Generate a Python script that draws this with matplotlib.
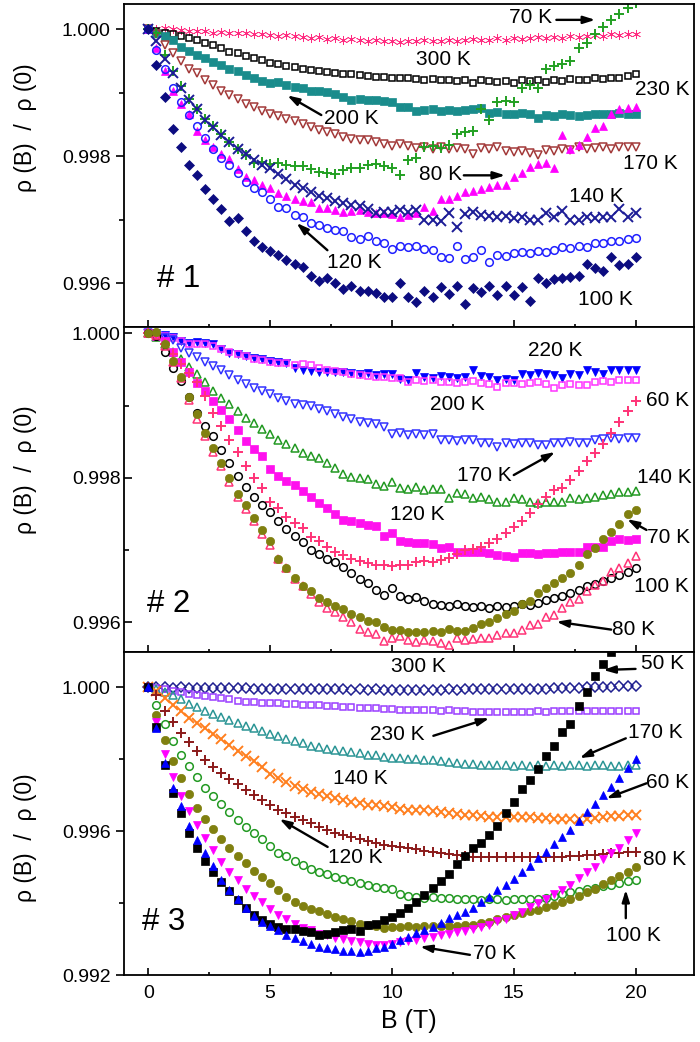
import numpy as np
import matplotlib
matplotlib.use('Agg')
import matplotlib.pyplot as plt
from matplotlib.ticker import MultipleLocator, FormatStrFormatter

plt.rcParams['font.family'] = ['Liberation Sans', 'DejaVu Sans']

# magnetic field (T), same sweep for every curve
B = [0, 0.33, 0.67, 1, 1.33, 1.67, 2, 2.33, 2.67, 3,
     3.33, 3.67, 4, 4.33, 4.67, 5, 5.33, 5.67, 6, 6.33,
     6.67, 7, 7.33, 7.67, 8, 8.33, 8.67, 9, 9.33, 9.67,
     10, 10.33, 10.67, 11, 11.33, 11.67, 12, 12.33, 12.67, 13,
     13.33, 13.67, 14, 14.33, 14.67, 15, 15.33, 15.67, 16, 16.33,
     16.67, 17, 17.33, 17.67, 18, 18.33, 18.67, 19, 19.33, 19.67,
     20]

# rho(B)/rho(0) - 1, in units of 1e-5
# ---- sample # 1 ----
s1_300 = [0, 1, 2, 0, -1, -2, -3, -3, -5, -4,
          -5, -6, -6, -8, -7, -9, -10, -9, -11, -12,
          -13, -12, -15, -14, -16, -15, -17, -18, -16, -19,
          -18, -20, -18, -19, -17, -19, -18, -16, -18, -17,
          -15, -17, -16, -14, -16, -13, -15, -14, -12, -13,
          -12, -13, -10, -12, -11, -9, -10, -8, -9, -7,
          -7]
s1_230 = [0, -3, -5, -7, -10, -14, -17, -21, -25, -30,
          -35, -38, -42, -45, -49, -53, -55, -58, -60, -62,
          -64, -65, -67, -68, -70, -71, -72, -73, -75, -75,
          -76, -77, -77, -78, -79, -78, -80, -79, -81, -80,
          -84, -79, -82, -83, -81, -84, -80, -82, -80, -83,
          -79, -81, -78, -80, -79, -77, -78, -76, -77, -74,
          -71]
s1_200 = [0, -5, -11, -16, -27, -34, -40, -45, -51, -56,
          -62, -66, -72, -76, -82, -85, -83, -87, -91, -93,
          -97, -97, -99, -102, -106, -111, -110, -111, -112, -113,
          -114, -122, -123, -128, -127, -126, -128, -127, -129, -127,
          -126, -124, -132, -130, -134, -133, -132, -134, -140, -135,
          -136, -134, -135, -137, -135, -133, -134, -133, -132, -133,
          -134]
s1_170 = [0, -8, -24, -37, -50, -63, -69, -79, -87, -97,
          -104, -110, -117, -122, -128, -133, -137, -141, -145, -149,
          -154, -159, -162, -165, -169, -172, -174, -175, -177, -181,
          -183, -181, -184, -187, -185, -188, -186, -188, -187, -189,
          -196, -187, -189, -186, -192, -194, -191, -195, -198, -190,
          -192, -189, -190, -186, -188, -187, -186, -188, -185, -186,
          -185]
s1_70 = [0, -6, -40, -65, -90, -110, -125, -142, -153, -165,
         -177, -188, -198, -210, -209, -212, -210, -214, -216, -215,
         -220, -225, -226, -228, -222, -219, -219, -214, -212, -215,
         -219, -230, -206, -202, -186, -184, -187, -182, -165, -162,
         -160, -125, -143, -114, -113, -115, -92, -88, -92, -62,
         -58, -55, -50, -30, -22, -8, 3, 14, 24, 33,
         42]
s1_80 = [0, -30, -66, -97, -117, -134, -160, -175, -186, -196,
         -205, -220, -232, -238, -245, -250, -258, -262, -268, -270,
         -272, -282, -281, -284, -288, -286, -285, -287, -290, -289,
         -291, -296, -292, -290, -280, -286, -267, -268, -262, -257,
         -255, -251, -248, -245, -246, -233, -226, -217, -212, -210,
         -219, -167, -188, -182, -169, -155, -153, -133, -126, -124,
         -122]
s1_140 = [0, -19, -47, -69, -92, -111, -125, -143, -154, -166,
          -177, -189, -197, -206, -213, -219, -228, -236, -245, -250,
          -256, -262, -266, -271, -273, -277, -279, -283, -289, -287,
          -288, -285, -288, -284, -301, -300, -302, -289, -312, -291,
          -288, -292, -294, -296, -294, -297, -295, -300, -301, -289,
          -296, -286, -300, -301, -296, -297, -295, -296, -283, -296,
          -290]
s1_120 = [0, -33, -62, -93, -114, -135, -152, -171, -188, -203,
          -214, -227, -240, -250, -257, -268, -280, -282, -292, -295,
          -305, -309, -313, -316, -317, -327, -331, -326, -334, -337,
          -346, -341, -343, -342, -346, -348, -359, -360, -341, -362,
          -358, -348, -367, -356, -357, -352, -351, -353, -350, -351,
          -347, -343, -344, -342, -343, -337, -336, -334, -333, -331,
          -328]
s1_100 = [0, -56, -106, -157, -185, -213, -230, -252, -268, -283,
          -302, -298, -317, -333, -343, -349, -356, -363, -370, -374,
          -388, -396, -391, -400, -409, -405, -413, -412, -416, -422,
          -422, -400, -422, -430, -412, -422, -406, -417, -405, -433,
          -407, -414, -404, -418, -404, -419, -406, -428, -391, -400,
          -393, -392, -390, -388, -369, -376, -380, -359, -371, -369,
          -359]

# ---- sample # 2 ----
s2_220 = [0, 0, -2, -5, -11, -13, -12, -13, -15, -22,
          -27, -29, -31, -34, -36, -38, -40, -41, -48, -50,
          -52, -53, -53, -54, -54, -55, -56, -55, -57, -56,
          -56, -63, -64, -55, -60, -61, -59, -60, -61, -60,
          -51, -59, -60, -64, -63, -64, -56, -57, -55, -56,
          -57, -62, -56, -57, -51, -54, -56, -50, -51, -50,
          -51]
s2_200 = [0, -1, -3, -6, -10, -14, -14, -14, -18, -22,
          -26, -28, -31, -35, -37, -39, -41, -41, -44, -42,
          -44, -48, -50, -52, -54, -56, -58, -59, -60, -60,
          -61, -62, -67, -65, -66, -65, -67, -67, -68, -67,
          -66, -69, -70, -74, -68, -69, -70, -68, -67, -70,
          -76, -71, -70, -71, -71, -67, -66, -67, -65, -65,
          -65]
s2_170 = [0, -3, -6, -9, -20, -27, -33, -39, -45, -50,
          -57, -64, -70, -75, -80, -84, -89, -93, -97, -99,
          -101, -104, -108, -112, -115, -118, -122, -124, -126, -129,
          -139, -138, -140, -139, -141, -139, -148, -147, -149, -148,
          -147, -152, -152, -157, -152, -153, -151, -152, -154, -155,
          -151, -152, -150, -151, -151, -148, -146, -145, -146, -145,
          -145]
s2_140 = [0, -5, -14, -25, -36, -47, -56, -67, -79, -89,
          -98, -107, -117, -124, -132, -139, -148, -153, -158, -166,
          -170, -173, -179, -186, -194, -199, -200, -201, -208, -211,
          -205, -214, -216, -213, -217, -215, -216, -228, -221, -222,
          -228, -227, -229, -233, -233, -228, -229, -234, -235, -233,
          -234, -233, -228, -229, -228, -226, -223, -222, -220, -219,
          -218]
s2_120 = [0, -3, -10, -26, -40, -53, -68, -79, -93, -106,
          -119, -134, -149, -160, -169, -187, -198, -204, -210, -218,
          -226, -235, -242, -250, -258, -259, -263, -265, -267, -281,
          -276, -287, -289, -290, -290, -291, -297, -296, -302, -302,
          -303, -302, -304, -307, -308, -309, -304, -304, -305, -304,
          -304, -302, -302, -303, -295, -296, -295, -288, -285, -286,
          -285]
s2_60 = [0, -4, -15, -28, -42, -55, -67, -86, -110, -128,
         -148, -164, -183, -200, -214, -233, -242, -254, -262, -270,
         -282, -287, -295, -302, -307, -312, -315, -318, -320, -321,
         -322, -321, -320, -316, -315, -316, -313, -311, -305, -300,
         -298, -295, -290, -284, -276, -268, -259, -248, -236, -226,
         -217, -214, -203, -191, -177, -166, -153, -138, -122, -108,
         -93]
s2_70 = [0, 2, -14, -38, -60, -88, -111, -138, -159, -180,
         -200, -222, -238, -256, -272, -287, -312, -325, -339, -349,
         -357, -366, -372, -378, -382, -389, -393, -398, -400, -407,
         -410, -411, -413, -413, -414, -412, -413, -409, -412, -412,
         -408, -402, -399, -394, -388, -384, -375, -370, -360, -353,
         -346, -339, -332, -321, -306, -297, -285, -275, -264, -250,
         -245]
s2_100 = [0, -4, -25, -48, -66, -88, -110, -128, -142, -162,
          -180, -197, -212, -226, -238, -247, -260, -271, -281, -289,
          -300, -306, -312, -316, -324, -332, -340, -345, -355, -362,
          -352, -364, -367, -365, -371, -374, -376, -378, -375, -377,
          -379, -378, -380, -377, -379, -377, -375, -376, -373, -369,
          -366, -363, -359, -355, -350, -347, -343, -339, -334, -330,
          -325]
s2_80 = [0, -2, -17, -40, -62, -92, -118, -142, -164, -184,
         -205, -226, -243, -260, -278, -293, -312, -325, -340, -350,
         -361, -372, -380, -386, -393, -400, -409, -414, -416, -426,
         -421, -419, -425, -427, -424, -426, -429, -431, -422, -424,
         -423, -421, -422, -418, -415, -415, -411, -404, -402, -393,
         -390, -380, -372, -368, -357, -348, -343, -330, -325, -318,
         -308]

# ---- sample # 3 ----
s3_300 = [0, 0, 0, -1, 0, -1, -2, -1, -2, -3,
          -2, -3, -3, -4, -4, -5, -4, -5, -5, -6,
          -5, -6, -6, -5, -6, -7, -6, -7, -6, -7,
          -7, -8, -7, -7, -8, -7, -7, -6, -7, -6,
          -6, -6, -5, -5, -6, -5, -4, -5, -4, -5,
          -3, -2, -1, -1, 0, 1, 1, 2, 3, 3,
          4]
s3_230 = [0, -3, -6, -10, -14, -18, -22, -25, -28, -31,
          -34, -37, -40, -42, -43, -44, -45, -46, -47, -48,
          -49, -50, -52, -53, -55, -56, -58, -59, -59, -60,
          -61, -62, -64, -63, -64, -64, -65, -64, -65, -66,
          -68, -70, -70, -69, -68, -69, -68, -68, -67, -69,
          -67, -66, -66, -67, -66, -66, -67, -66, -66, -66,
          -66]
s3_170 = [0, -5, -13, -22, -34, -47, -56, -67, -75, -82,
          -91, -99, -107, -114, -121, -129, -136, -143, -150, -156,
          -162, -166, -171, -175, -178, -180, -184, -187, -189, -193,
          -197, -197, -199, -200, -202, -203, -205, -207, -210, -212,
          -213, -215, -216, -216, -217, -218, -217, -218, -217, -218,
          -217, -218, -217, -217, -218, -217, -217, -218, -218, -216,
          -216]
s3_140 = [0, -11, -31, -48, -66, -85, -99, -114, -129, -143,
          -160, -177, -192, -205, -222, -240, -252, -264, -274, -283,
          -290, -296, -302, -308, -313, -319, -321, -326, -328, -330,
          -334, -338, -340, -341, -342, -345, -347, -349, -352, -354,
          -356, -358, -360, -360, -361, -360, -361, -362, -363, -364,
          -365, -366, -366, -367, -366, -363, -361, -359, -357, -356,
          -355]
s3_120 = [0, -21, -65, -98, -127, -153, -177, -201, -222, -239,
          -255, -270, -285, -300, -313, -326, -340, -350, -360, -369,
          -378, -388, -396, -404, -410, -417, -421, -427, -433, -438,
          -442, -445, -448, -451, -454, -457, -460, -463, -466, -470,
          -471, -472, -473, -472, -473, -472, -473, -472, -472, -473,
          -472, -471, -470, -468, -466, -465, -464, -462, -461, -459,
          -457]
s3_100 = [0, -50, -103, -150, -187, -220, -250, -280, -303, -325,
          -347, -368, -388, -406, -422, -440, -460, -470, -483, -495,
          -504, -513, -520, -527, -533, -539, -545, -551, -556, -557,
          -561, -574, -579, -582, -585, -584, -586, -585, -588, -589,
          -590, -591, -590, -590, -591, -590, -589, -590, -588, -586,
          -580, -575, -570, -566, -562, -557, -553, -549, -545, -540,
          -536]
s3_80 = [0, -76, -148, -206, -252, -296, -335, -366, -394, -423,
         -448, -468, -490, -510, -528, -545, -565, -582, -596, -607,
         -616, -623, -631, -639, -644, -650, -657, -660, -664, -669,
         -667, -666, -665, -666, -665, -664, -665, -663, -664, -662,
         -660, -655, -652, -645, -640, -633, -627, -622, -620, -612,
         -604, -596, -588, -580, -570, -560, -546, -536, -525, -513,
         -499]
s3_70 = [0, -97, -185, -250, -301, -345, -384, -418, -453, -487,
         -514, -536, -560, -580, -598, -616, -632, -645, -658, -669,
         -676, -686, -690, -698, -701, -705, -709, -713, -716, -717,
         -713, -709, -706, -703, -698, -693, -689, -685, -680, -677,
         -672, -666, -660, -651, -643, -634, -624, -612, -600, -588,
         -575, -563, -550, -529, -515, -499, -477, -462, -447, -425,
         -406]
s3_60 = [0, -113, -210, -280, -330, -385, -425, -462, -496, -535,
         -565, -590, -614, -637, -652, -664, -675, -688, -697, -705,
         -715, -722, -725, -727, -732, -732, -735, -732, -725, -723,
         -713, -702, -694, -684, -675, -666, -655, -642, -633, -626,
         -614, -598, -582, -565, -550, -534, -515, -497, -475, -459,
         -437, -415, -398, -373, -348, -325, -300, -277, -253, -225,
         -200]
s3_50 = [0, -110, -215, -295, -350, -405, -447, -483, -514, -541,
         -566, -592, -613, -632, -648, -657, -666, -672, -673, -679,
         -681, -690, -686, -681, -676, -673, -678, -661, -657, -647,
         -640, -628, -614, -597, -578, -558, -538, -520, -492, -470,
         -448, -432, -410, -385, -350, -318, -283, -258, -228, -190,
         -162, -125, -102, -52, -12, 30, 66, 98, 135, 170,
         205]


def ratio(d):
    return 1 + np.asarray(d, dtype=float) * 1e-5


def draw(ax, d, marker, color, filled=True, ms=5):
    if marker in ('+', 'x'):
        ax.plot(B, ratio(d), ls='none', marker=marker, color=color, ms=ms, mew=1.4)
    elif filled:
        ax.plot(B, ratio(d), ls='none', marker=marker, color=color, ms=ms, mew=0.5)
    else:
        ax.plot(B, ratio(d), ls='none', marker=marker, mfc='none', mec=color, ms=ms, mew=1.1)


fig = plt.figure(figsize=(7, 10.42), dpi=100)
L, W = 124 / 700, 570 / 700
ax1 = fig.add_axes([L, 715 / 1042, W, 323 / 1042])
ax2 = fig.add_axes([L, 390 / 1042, W, 325 / 1042])
ax3 = fig.add_axes([L, 67 / 1042, W, 323 / 1042])

# sample 1
draw(ax1, s1_300, (6, 2, 0), '#ff2a7f', ms=6.5)
draw(ax1, s1_230, 's', 'black', filled=False, ms=5)
draw(ax1, s1_200, 's', '#1a8c8c', ms=5.5)
draw(ax1, s1_170, 'v', '#a33a3a', filled=False, ms=5.5)
draw(ax1, s1_70, '+', '#22a022', ms=6.5)
draw(ax1, s1_80, '^', '#ff00ff', ms=6)
draw(ax1, s1_140, 'x', '#1c1c96', ms=6.5)
draw(ax1, s1_120, 'o', '#2020ff', filled=False, ms=5.5)
draw(ax1, s1_100, 'D', '#0c0c80', ms=5)

# sample 2
draw(ax2, s2_220, 'v', '#0000ff', ms=6)
draw(ax2, s2_200, 's', '#ff33ff', filled=False, ms=5)
draw(ax2, s2_170, 'v', '#3333ff', filled=False, ms=5.5)
draw(ax2, s2_140, '^', '#229922', filled=False, ms=5.5)
draw(ax2, s2_120, 's', '#ff11ee', ms=5.5)
draw(ax2, s2_60, '+', '#ff3377', ms=6.5)
draw(ax2, s2_100, 'o', 'black', filled=False, ms=5.5)
draw(ax2, s2_80, '^', '#ff3377', filled=False, ms=5.5)
draw(ax2, s2_70, 'o', '#808010', ms=6)

# sample 3
draw(ax3, s3_300, 'D', '#202090', filled=False, ms=5)
draw(ax3, s3_230, 's', '#9a3dff', filled=False, ms=5)
draw(ax3, s3_170, '^', '#2b9595', filled=False, ms=5.5)
draw(ax3, s3_140, 'x', '#ff7f1e', ms=6.5)
draw(ax3, s3_120, '+', '#8b1a1a', ms=6.5)
draw(ax3, s3_100, 'o', '#229922', filled=False, ms=5.5)
draw(ax3, s3_80, 'o', '#808010', ms=6)
draw(ax3, s3_70, 'v', '#ff00ff', ms=6)
draw(ax3, s3_50, 's', 'black', ms=5.5)
draw(ax3, s3_60, '^', '#0000ff', ms=6)

# axes styling
ax1.set_ylim(0.99531, 1.0004)
ax2.set_ylim(0.99559, 1.00009)
ax3.set_ylim(0.992, 1.00098)
for ax, ydir, major, lx, ly in ((ax1, 'out', 0.002, -0.153, 0.616),
                                (ax2, 'in', 0.002, -0.153, 0.56),
                                (ax3, 'out', 0.004, -0.153, 0.424)):
    ax.set_xlim(-1, 22.4)
    ax.xaxis.set_major_locator(MultipleLocator(5))
    ax.xaxis.set_minor_locator(MultipleLocator(2.5))
    ax.yaxis.set_major_locator(MultipleLocator(major))
    ax.yaxis.set_minor_locator(MultipleLocator(major / 2))
    ax.yaxis.set_major_formatter(FormatStrFormatter('%.3f'))
    ax.tick_params(axis='x', which='both', direction='in', top=False, width=1.2,
                   labelsize=14, pad=7)
    ax.tick_params(axis='x', which='major', length=5)
    ax.tick_params(axis='x', which='minor', length=2.5)
    ax.tick_params(axis='y', which='both', direction=ydir, right=False, width=1.2,
                   labelsize=14, pad=3.5 if ydir == 'out' else 2.5)
    ax.tick_params(axis='y', which='major', length=6)
    ax.tick_params(axis='y', which='minor', length=3.5)
    for sp in ax.spines.values():
        sp.set_linewidth(1.3)
    ax.set_ylabel('ρ (B)  /  ρ (0)', fontsize=16.5)
    ax.yaxis.set_label_coords(lx, ly)

ax1.tick_params(labelbottom=False)
ax2.tick_params(labelbottom=False)
ax3.set_xlabel('B (T)', fontsize=18, labelpad=5)

ax1.text(0.058, 0.124, '# 1', transform=ax1.transAxes, fontsize=22.5, va='baseline')
ax2.text(0.040, 0.123, '# 2', transform=ax2.transAxes, fontsize=22.5, va='baseline')
ax3.text(0.032, 0.139, '# 3', transform=ax3.transAxes, fontsize=22.5, va='baseline')

# temperature labels: (text, B, value in 1e-5)
labels1 = [('70 K', 15.7, 19.5), ('300 K', 12.1, -48), ('230 K', 21.1, -94),
           ('200 K', 8.35, -140), ('170 K', 20.6, -212), ('80 K', 12.0, -228),
           ('140 K', 18.4, -263), ('120 K', 8.45, -367), ('100 K', 18.75, -426)]
arrows1 = [(16.75, 15, 18.35, 15), (7.1, -135, 5.7, -104),
           (12.95, -230, 14.65, -230), (7.35, -348, 6.08, -305)]
labels2 = [('220 K', 16.7, -24), ('200 K', 12.7, -99), ('60 K', 21.3, -93),
           ('170 K', 13.8, -196), ('140 K', 21.2, -199), ('120 K', 11.05, -251),
           ('70 K', 21.35, -282), ('100 K', 21.05, -350), ('80 K', 19.9, -410)]
arrows2 = [(15.0, -196, 16.7, -164), (20.45, -272, 19.65, -257),
           (19.0, -410, 16.75, -399)]
labels3 = [('300 K', 11.1, 57), ('50 K', 21.1, 65), ('230 K', 10.2, -132),
           ('170 K', 20.8, -126), ('140 K', 8.7, -254), ('60 K', 21.3, -264),
           ('120 K', 8.5, -474), ('80 K', 21.2, -480), ('100 K', 19.9, -689),
           ('70 K', 14.2, -740)]
arrows3 = [(20.0, 51, 18.67, 48), (11.7, -135, 14.0, -86), (19.6, -142, 17.7, -197),
           (20.45, -267, 18.8, -309), (7.36, -444, 5.38, -366),
           (19.6, -642, 19.6, -563), (13.2, -744, 11.15, -721)]

for ax, labs, arrs in ((ax1, labels1, arrows1), (ax2, labels2, arrows2),
                       (ax3, labels3, arrows3)):
    for t, x, y in labs:
        ax.text(x, ratio(y), t, fontsize=15, ha='center', va='center', clip_on=False)
    for x0, y0, x1, y1 in arrs:
        ax.annotate('', xy=(x1, ratio(y1)), xytext=(x0, ratio(y0)),
                    arrowprops=dict(arrowstyle='-|>,head_length=0.7,head_width=0.22',
                                    color='black', lw=1.7, shrinkA=0, shrinkB=0))

fig.savefig('out.png', dpi=100)
